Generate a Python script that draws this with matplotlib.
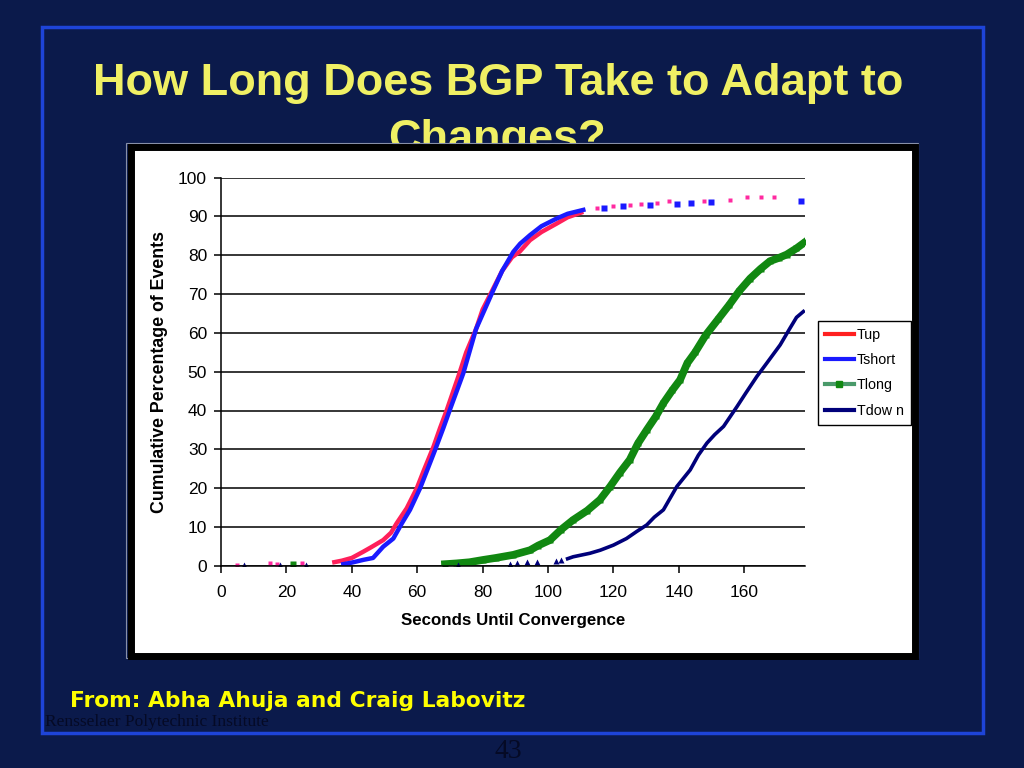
import matplotlib
matplotlib.use("Agg")
from matplotlib import pyplot as plt
from matplotlib.patches import Rectangle
from matplotlib.lines import Line2D

# --- data ---
tup_x = [34, 37, 40, 43.5, 46, 49.6, 52, 53.7, 56.8, 59.9, 62, 65, 67, 69, 72.6, 75, 78, 80, 83,
         86, 89, 91.4, 94.5, 98, 102.7, 106, 110.8]
tup_y = [0.8, 1.3, 2.0, 3.6, 4.8, 6.6, 8.5, 10.9, 14.8, 20.0, 24.5, 30.7, 35.5, 40.0, 48.8, 55,
         61, 66, 71, 76, 79.5, 81, 83.9, 86, 88.2, 89.8, 91.2]
tup_pts_x = [4.8, 15, 17, 24.7, 114.9, 120, 125, 128.3, 133.4, 137, 147.7, 155.8, 161, 165, 169]
tup_pts_y = [0.3, 0.8, 0.4, 0.8, 92.1, 92.7, 92.9, 93.1, 93.6, 93.9, 93.9, 94.2, 95, 95, 95]

tshort_x = [37.4, 40, 43.5, 46.5, 49.6, 52.7, 55.3, 57.8, 60.9, 63, 65.5, 68, 70, 74.1, 78, 83,
            86, 89.4, 91.5, 94.5, 98, 102.7, 106, 110.8]
tshort_y = [0.4, 0.8, 1.5, 2.0, 4.9, 7.0, 10.9, 14.4, 20.0, 24.5, 29.9, 35.5, 40.2, 49.6, 61,
            70.5, 76, 80.9, 83, 85.2, 87.5, 89.5, 90.7, 91.7]
tshort_pts_x = [117, 123, 131.3, 139.6, 143.7, 149.8, 177.5]
tshort_pts_y = [92.1, 92.8, 93.0, 93.3, 93.5, 93.8, 94.1]

tlong_x = [68.5, 72, 76, 80.2, 84, 89.4, 94.5, 97, 100.6, 104, 107.7, 112, 115.9, 119, 122, 125,
           127.5, 130.2, 133, 135.3, 138, 140.4, 142.6, 145, 148.3, 152, 155.5, 158.5, 161.8,
           165, 167.9, 170.5, 173, 176, 178.6]
tlong_y = [0.4, 0.6, 0.9, 1.5, 2.0, 2.8, 4.0, 5.2, 6.6, 9.3, 11.8, 14.2, 17.0, 20.4, 24.0, 27.3,
           31.5, 35.0, 38.5, 41.9, 45.2, 47.9, 52.2, 55, 59.5, 63.5, 67.3, 70.8, 74.0, 76.5,
           78.5, 79.3, 80.2, 81.8, 83.4]
tlong_pts_x = [22]
tlong_pts_y = [0.4]

tdown_x = [106, 107.7, 112.8, 116, 120, 124, 127.1, 130.2, 132.5, 135.3, 139.4, 143.5, 146,
           148.6, 151, 153.7, 157.8, 160.5, 163.9, 166.9, 171, 174, 176, 178.1]
tdown_y = [1.8, 2.3, 3.2, 4.0, 5.3, 7.0, 8.8, 10.5, 12.5, 14.4, 20.4, 24.7, 28.5, 31.6, 33.8,
           35.9, 41.0, 44.5, 48.8, 52.2, 56.9, 61.2, 64, 65.5]
tdown_pts_x = [7, 18, 26, 72.5, 88.4, 90.5, 93.5, 96.5, 102.5, 104]
tdown_pts_y = [0.1, 0.3, 0.2, 0.3, 0.5, 0.6, 0.9, 1.0, 1.3, 1.5]

x_ticks = [0, 20, 40, 60, 80, 100, 120, 140, 160]
y_ticks = [0, 10, 20, 30, 40, 50, 60, 70, 80, 90, 100]

BG = "#0b1a4b"
RED = "#ff1f5a"
BLUE = "#1a1aff"
GREEN = "#118811"
NAVY = "#00007a"

plt.rcParams["font.family"] = ["Liberation Sans", "DejaVu Sans"]

W, H = 1024, 768
fig = plt.figure(figsize=(10.24, 7.68), dpi=100, facecolor=BG)

def fx(px):
    return px / W

def fy(py):
    return 1 - py / H

def box(x0, y0, x1, y1, **kw):
    # rectangle given in pixel corners (top-left, bottom-right)
    r = Rectangle((fx(x0), fy(y1)), fx(x1) - fx(x0), fy(y0) - fy(y1),
                  transform=fig.transFigure, **kw)
    fig.patches.append(r)

# slide border
box(42, 27, 983, 733, fill=False, edgecolor="#1e44d8", lw=2.5, zorder=-3)

# title (second line partly hidden behind the chart panel)
title_col = "#f0f064"
fig.text(fx(498), fy(84), "How Long Does BGP Take to Adapt to", ha="center", va="center",
         fontsize=32.5, fontweight="bold", color=title_col, zorder=-2)
fig.text(fx(497), fy(139), "Changes?", ha="center", va="center",
         fontsize=32.5, fontweight="bold", color=title_col, zorder=-2)

# chart panel
box(126, 143, 918, 658, fill=False, edgecolor="#8890a8", lw=0.8, zorder=-1.5)
box(130.5, 147, 914.5, 655.5, facecolor="white", edgecolor="black", lw=5, zorder=-1)

ax = fig.add_axes([fx(221), fy(565.7), fx(805) - fx(221), fy(177.7) - fy(565.7)])
ax.set_facecolor("white")

ax.plot(tup_x, tup_y, color=RED, lw=3.2, solid_capstyle="butt")
ax.plot(tup_pts_x, tup_pts_y, ls="none", marker="s", ms=2.5, color="#ff2aa0", mec="none")
ax.plot(tshort_x, tshort_y, color=BLUE, lw=3.2)
ax.plot(tshort_pts_x, tshort_pts_y, ls="none", marker="s", ms=4, color=BLUE, mec="none")
ax.plot(tlong_x, tlong_y, color=GREEN, lw=5.5, marker="s", ms=4, mec="none")
ax.plot(tlong_pts_x, tlong_pts_y, ls="none", marker="s", ms=4, color=GREEN, mec="none")
ax.plot(tdown_x, tdown_y, color=NAVY, lw=2.6)
ax.plot(tdown_pts_x, tdown_pts_y, ls="none", marker="^", ms=4, color=NAVY, mec="none")

ax.set_xlim(0, 178.6)
ax.set_ylim(0, 100)
ax.set_xticks(x_ticks)
ax.set_yticks(y_ticks)
ax.yaxis.grid(True, color="black", lw=1.1)
ax.set_axisbelow(True)
for s in ["top", "right"]:
    ax.spines[s].set_visible(False)
ax.spines["left"].set_linewidth(1.1)
ax.spines["bottom"].set_linewidth(1.1)
ax.tick_params(direction="out", length=5, width=1.1, labelsize=12.5, colors="black")
ax.tick_params(axis="x", pad=9)
ax.tick_params(axis="y", pad=5)
ax.set_xlabel("Seconds Until Convergence", fontsize=12.2, fontweight="bold", labelpad=9)
ax.set_ylabel("Cumulative Percentage of Events", fontsize=12.8, fontweight="bold", labelpad=7)

handles = [
    Line2D([], [], color="#ff2020", lw=3),
    Line2D([], [], color=BLUE, lw=3),
    Line2D([], [], color="#4a9a6a", lw=3, marker="s", ms=5, mfc=GREEN, mec=GREEN),
    Line2D([], [], color=NAVY, lw=3),
]
leg = fig.legend(handles, ["Tup", "Tshort", "Tlong", "Tdow n"],
                 loc="upper left", bbox_to_anchor=(fx(818), fy(321)), borderaxespad=0,
                 fontsize=10.3, fancybox=False, edgecolor="black", framealpha=1,
                 handlelength=2.0, labelspacing=0.78, borderpad=0.5, handletextpad=0.2)
leg.get_frame().set_linewidth(1)

# footer
fig.text(fx(70), fy(701), "From: Abha Ahuja and Craig Labovitz", ha="left", va="center",
         fontsize=15.7, fontweight="bold", color="#ffff00", family=["DejaVu Sans"])
fig.text(fx(45), fy(722), "Rensselaer Polytechnic Institute", ha="left", va="center",
         fontsize=12.5, color="#050a25", family=["Liberation Serif", "DejaVu Serif"])
fig.text(fx(508), fy(752), "43", ha="center", va="center",
         fontsize=20, color="#050a25", family=["Liberation Serif", "DejaVu Serif"])

fig.savefig("out.png", dpi=100, facecolor=BG)
